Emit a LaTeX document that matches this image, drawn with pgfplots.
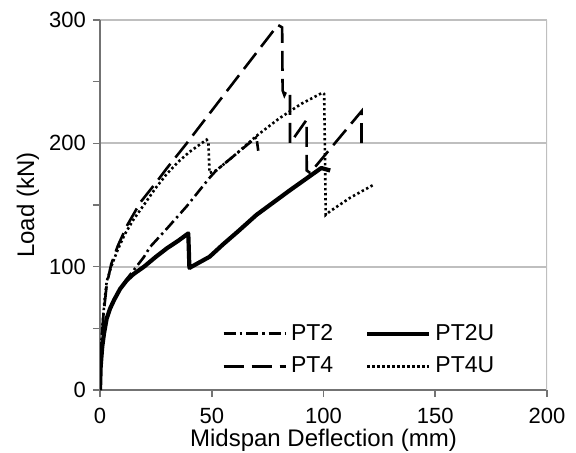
\documentclass[border=0pt]{standalone}
\usepackage{fontspec}
\setmainfont{Liberation Sans}
\usepackage{pgfplots}
\pgfplotsset{compat=1.18}

\begin{document}
\begin{tikzpicture}
\begin{axis}[
    scale only axis,
    width=223.5pt, height=185pt,
    xmin=0, xmax=200, ymin=0, ymax=300,
    axis lines=left,
    axis line style={-, draw=black!55, line width=0.8pt},
    xtick={0,50,...,200},
    ytick={0,100,200,300},
    minor ytick={50,150,250},
    tick align=outside,
    major tick length=3.5pt, minor tick length=3.5pt,
    tick style={draw=black!55, line width=0.8pt},
    ymajorgrids,
    major grid style={draw=black!25, line width=0.9pt},
    ticklabel style={font=\fontsize{11}{13}\selectfont},
    xticklabel style={yshift=-2pt},
    /pgf/number format/assume math mode=true,
    xlabel={Midspan Deflection (mm)},
    ylabel={Load (kN)},
    xlabel style={font=\fontsize{12}{14}\selectfont, at={(rel axis cs:0.5,0)},
        anchor=base, inner sep=0pt, yshift=-28pt},
    ylabel style={font=\fontsize{12}{14}\selectfont, at={(rel axis cs:0,0.5)},
        anchor=center, inner sep=0pt, yshift=36pt},
    legend columns=2,
    legend image code/.code={\draw[#1] (0pt,0pt) -- (31pt,0pt);},
    legend style={draw=none, fill=none, at={(rel axis cs:0.273,0.108)},
        anchor=west, font=\fontsize{11.5}{13}\selectfont, inner sep=0pt,
        row sep=3pt, /tikz/every even column/.append style={column sep=14pt}},
]
% PT2
\addplot[black, line width=1.3pt, dash pattern=on 6pt off 2pt on 1.2pt off 2pt] coordinates {
    (0,0) (0.3,18) (1,35) (1.8,46) (3,58) (4.5,66) (6.3,73) (9,82) (12,90)
    (15,97) (19.7,108) (22.4,116) (30,131) (38.8,149) (45,163) (49,172)
    (52,178) (60,190) (70,205) (70.8,194)
};
\addlegendentry{PT2}
% PT2U
\addplot[black, line width=2.1pt, line join=round] coordinates {
    (0,0) (0.3,19) (1,35) (1.8,46) (3,58) (4.5,66) (6.3,73) (9,82) (12,89)
    (15,94) (19.7,100) (25,108) (30,115) (35,121) (39.5,127) (40,99) (45,104)
    (49,108) (55,118) (62,129) (70,142) (76,150) (85,162) (92,171) (99,180)
    (103,178)
};
\addlegendentry{PT2U}
% PT4
\addplot[black, line width=1.3pt, dash pattern=on 10pt off 4pt] coordinates {
    (0,0) (0.5,35) (1.5,60) (3,85) (5,102) (8,117) (12,133) (18,152) (25,168)
    (30,180) (38.8,200) (44.7,214) (60,250) (79.6,296) (81.5,294) (81.7,243)
    (82.5,239) (83.5,243) (85,240) (85,200) (92.4,219) (92.5,178) (94,176)
    (117,226) (117,195)
};
\addlegendentry{PT4}
% PT4U
\addplot[black, line width=1.3pt, dash pattern=on 1.2pt off 1.3pt] coordinates {
    (0,0) (0.3,30) (1,50) (2,72) (3,88) (5,100) (8,114) (11,126) (14.9,138)
    (20,151) (25,164) (29.8,175) (35,185) (40,193) (47.7,203) (48.5,201)
    (49,176) (52,178) (60,190) (70,206) (80,220) (90,232) (99.5,241)
    (100.3,240) (101,142) (103,145) (112,156) (122,166)
};
\addlegendentry{PT4U}
\draw[black!25, line width=0.9pt] (axis cs:200,0) -- (axis cs:200,300);
\end{axis}
\pgfresetboundingbox
\path[use as bounding box] (-50pt,-31pt) rectangle (238pt,195pt);
\end{tikzpicture}
\end{document}
